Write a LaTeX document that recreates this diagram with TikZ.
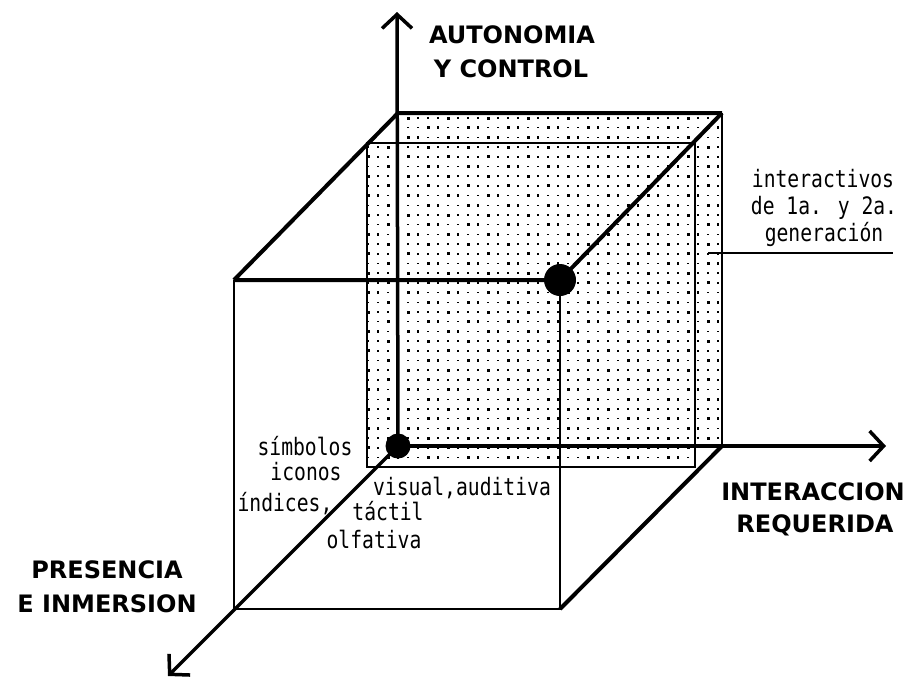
\documentclass[tikz,border=0pt]{standalone}
\usepackage{fontspec}
\newfontfamily\lblfont{DejaVu Sans}
\newfontfamily\smfont{DejaVu Sans Mono}[FakeStretch=0.82]
\usetikzlibrary{arrows.meta}
\tikzset{
  thinln/.style={line width=1.5pt},
  medln/.style={line width=2.5pt},
  thickln/.style={line width=4pt},
  axisln/.style={line width=3.5pt, -{Straight Barb[length=14pt,width=30pt,line width=3.5pt]}},
  biglbl/.style={font=\lblfont\bfseries\fontsize{24}{28}\selectfont, inner sep=0pt, anchor=base},
  smlbl/.style={font=\smfont\fontsize{24}{28}\selectfont, inner sep=0pt, anchor=base},
  bigdot/.style={circle, fill=black, inner sep=0pt}
}
\begin{document}
\begin{tikzpicture}[x=1pt,y=-1pt]
\fill[white] (0,0) rectangle (910,681);
\useasboundingbox (0,0) rectangle (910,681);
% coordinates
\coordinate (O) at (398,446);
\coordinate (T) at (397,12);
\coordinate (R) at (886,446);
\coordinate (D) at (168,676);
\coordinate (FTL) at (234,280);
\coordinate (FTR) at (560,280);
\coordinate (FBL) at (234,609);
\coordinate (FBR) at (560,609);
\coordinate (BTL) at (398,113);
\coordinate (BTR) at (722,113);
\coordinate (BBR) at (722,446);
\coordinate (S1) at (367,143);
\coordinate (S2) at (695,467);
\coordinate (L1) at (708,253);
\coordinate (L2) at (893,253);
% dotted fill
\begin{scope}
\clip (BTL) rectangle (BBR) (S1) rectangle (S2);
\foreach \i in {0,...,35}{\foreach \j in {0,...,36}{
  \pgfmathtruncatemacro{\k}{mod(\i+2*\j,4)}
  \ifcase\k \def\w{3}\def\h{3}\or \def\w{1.5}\def\h{2.5}\or \def\w{2.5}\def\h{1.5}\or \def\w{1.5}\def\h{1.5}\fi
  \fill (368+10*\i-\w/2, 118+9.7*\j-\h/2) rectangle ++(\w,\h);
}}
\end{scope}
% thin rectangle
\draw[thinln] (S1) rectangle (S2);
% cube edges
\draw[medln] (FTL) -- (FBL) -- (FBR) -- (FTR);
\draw[thickln] (FTL) -- (FTR) -- (BTR);
\draw[thickln] (FTL) -- (BTL) -- (BTR);
\draw[medln] (BTR) -- (BBR);
\draw[thickln] (FBR) -- (BBR);
% axes
\draw[axisln] (O) -- (T);
\draw[axisln] (O) -- (R);
\draw[axisln] (O) -- (D);
% leader
\draw[thinln] (L1) -- (L2);
% dots
\node[bigdot, minimum size=32pt] (P) at (FTR) {};
\node[bigdot, minimum size=25pt] (Q) at (O) {};
% labels
\node[biglbl] (a1) at (512,43) {AUTONOMIA};
\node[biglbl] (a2) at (511,77) {Y CONTROL};
\node[biglbl] (b1) at (813,500) {INTERACCION};
\node[biglbl] (b2) at (815,532) {REQUERIDA};
\node[biglbl] (c1) at (107,578) {PRESENCIA};
\node[biglbl] (c2) at (107,612) {E INMERSION};
\node[smlbl] (d1) at (823,187) {interactivos};
\node[smlbl] (d2) at (824,214) {de 1a. y 2a.};
\node[smlbl] (d3) at (824,241) {generación};
\node[smlbl] (e1) at (305,455) {símbolos};
\node[smlbl] (e2) at (306,480) {iconos};
\node[smlbl] (e3) at (285,511) {índices,};
\node[smlbl] (f1) at (462,495) {visual,auditiva};
\node[smlbl] (f2) at (388,520) {táctil};
\node[smlbl] (f3) at (374,548) {olfativa};
\end{tikzpicture}
\end{document}
